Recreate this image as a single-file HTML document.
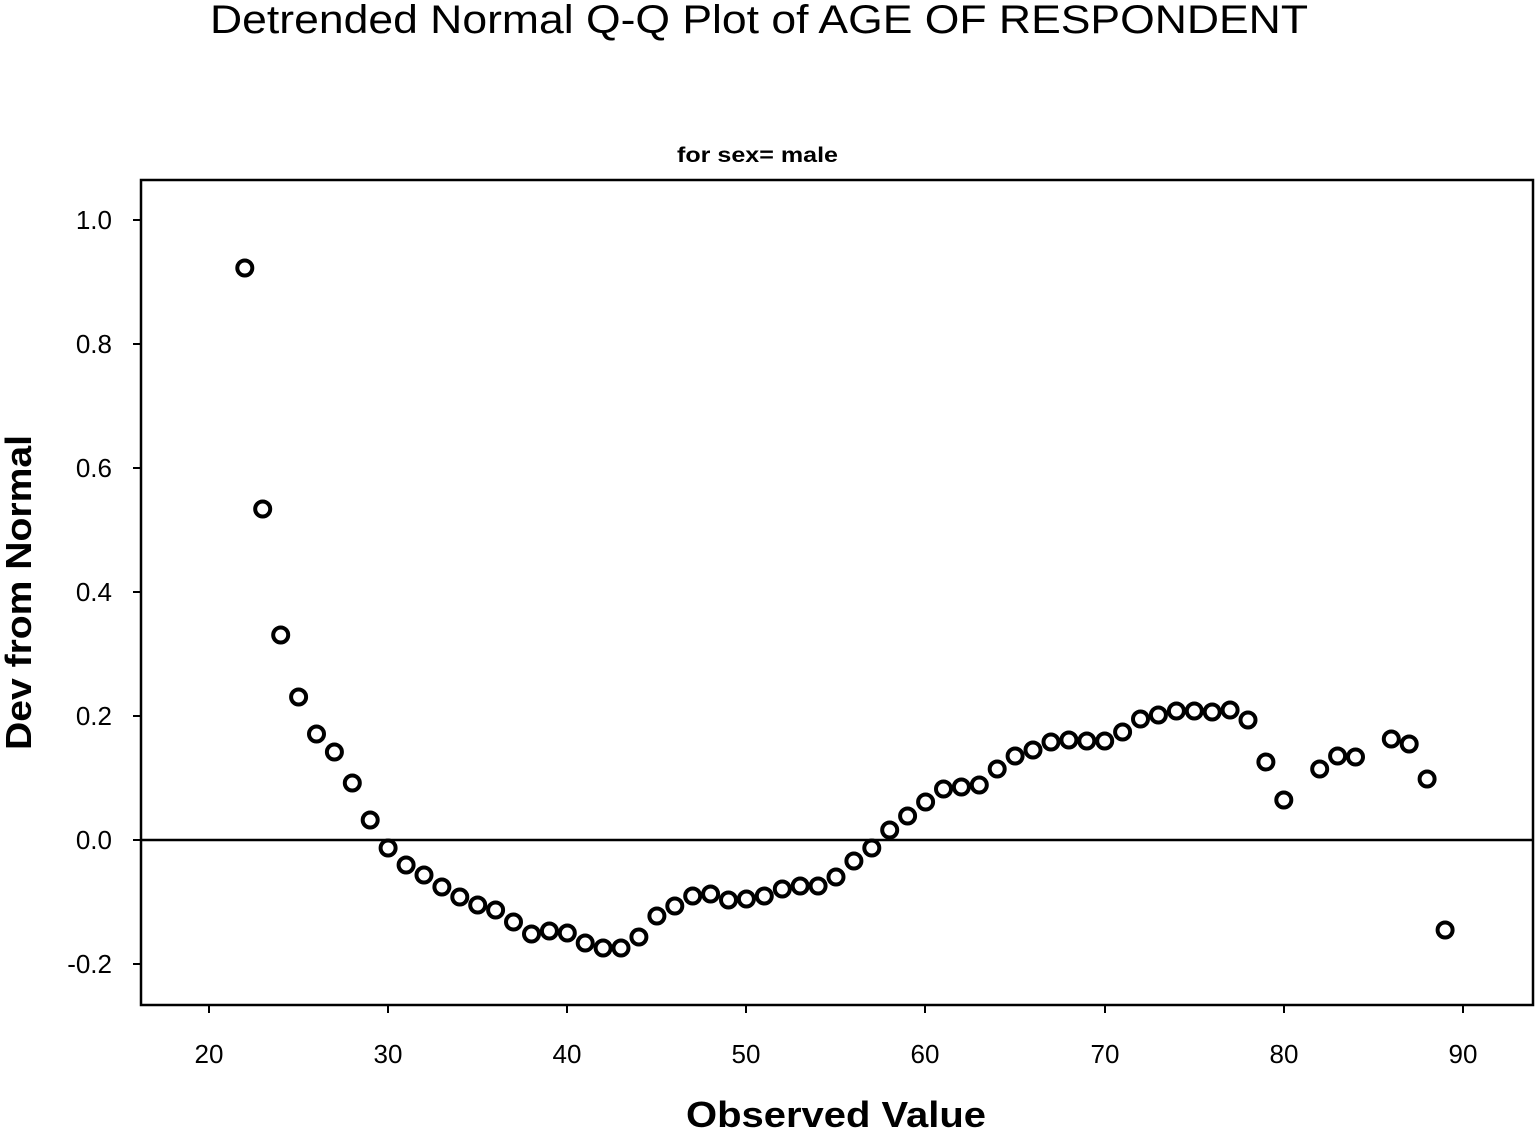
<!DOCTYPE html>
<html><head><style>html,body{margin:0;padding:0;background:#fff}</style></head><body>
<svg width="1536" height="1130" xmlns="http://www.w3.org/2000/svg" font-family="Liberation Sans, sans-serif">
<rect width="1536" height="1130" fill="#fff"/>
<text x="210" y="33" font-size="40" textLength="1098" lengthAdjust="spacingAndGlyphs" fill="#000">Detrended Normal Q-Q Plot of AGE OF RESPONDENT</text>
<text x="677" y="162" font-size="21" font-weight="bold" textLength="161" lengthAdjust="spacingAndGlyphs" fill="#000">for sex= male</text>
<rect x="141" y="180" width="1392" height="825" fill="none" stroke="#000" stroke-width="2.5"/>
<line x1="141" y1="840" x2="1533" y2="840" stroke="#000" stroke-width="2.5"/>
<g stroke="#000" stroke-width="2">
<line x1="133" y1="220" x2="141" y2="220"/><line x1="133" y1="344" x2="141" y2="344"/><line x1="133" y1="468" x2="141" y2="468"/><line x1="133" y1="592" x2="141" y2="592"/><line x1="133" y1="716" x2="141" y2="716"/><line x1="133" y1="840" x2="141" y2="840"/><line x1="133" y1="964" x2="141" y2="964"/>
<line x1="209" y1="1005" x2="209" y2="1013"/><line x1="388" y1="1005" x2="388" y2="1013"/><line x1="567" y1="1005" x2="567" y2="1013"/><line x1="746" y1="1005" x2="746" y2="1013"/><line x1="925" y1="1005" x2="925" y2="1013"/><line x1="1105" y1="1005" x2="1105" y2="1013"/><line x1="1284" y1="1005" x2="1284" y2="1013"/><line x1="1463" y1="1005" x2="1463" y2="1013"/>
</g>
<g font-size="26" text-anchor="end" fill="#000">
<text x="112" y="229">1.0</text><text x="112" y="353">0.8</text><text x="112" y="477">0.6</text><text x="112" y="601">0.4</text><text x="112" y="725">0.2</text><text x="112" y="849">0.0</text><text x="112" y="973">-0.2</text>
</g>
<g font-size="26" text-anchor="middle" fill="#000">
<text x="209" y="1063">20</text><text x="388" y="1063">30</text><text x="567" y="1063">40</text><text x="746" y="1063">50</text><text x="925" y="1063">60</text><text x="1105" y="1063">70</text><text x="1284" y="1063">80</text><text x="1463" y="1063">90</text>
</g>
<text x="686" y="1127" font-size="36" font-weight="bold" textLength="300" lengthAdjust="spacingAndGlyphs" fill="#000">Observed Value</text>
<text transform="translate(31,750) rotate(-90)" font-size="36" font-weight="bold" textLength="315" lengthAdjust="spacingAndGlyphs" fill="#000">Dev from Normal</text>
<g fill="none" stroke="#000" stroke-width="4">
<circle cx="244.8" cy="268" r="7.5"/><circle cx="262.7" cy="509" r="7.5"/><circle cx="280.7" cy="635" r="7.5"/><circle cx="298.6" cy="697" r="7.5"/><circle cx="316.5" cy="734" r="7.5"/><circle cx="334.4" cy="752" r="7.5"/><circle cx="352.3" cy="783" r="7.5"/><circle cx="370.2" cy="820" r="7.5"/><circle cx="388.1" cy="848" r="7.5"/><circle cx="406.1" cy="865" r="7.5"/><circle cx="424.0" cy="875" r="7.5"/><circle cx="441.9" cy="887" r="7.5"/><circle cx="459.8" cy="897" r="7.5"/><circle cx="477.7" cy="905" r="7.5"/><circle cx="495.6" cy="910" r="7.5"/><circle cx="513.5" cy="922" r="7.5"/><circle cx="531.5" cy="934" r="7.5"/><circle cx="549.4" cy="931" r="7.5"/><circle cx="567.3" cy="933" r="7.5"/><circle cx="585.2" cy="943" r="7.5"/><circle cx="603.1" cy="948" r="7.5"/><circle cx="621.0" cy="948" r="7.5"/><circle cx="638.9" cy="937" r="7.5"/><circle cx="656.9" cy="916" r="7.5"/><circle cx="674.8" cy="906" r="7.5"/><circle cx="692.7" cy="896" r="7.5"/><circle cx="710.6" cy="894" r="7.5"/><circle cx="728.5" cy="900" r="7.5"/><circle cx="746.4" cy="899" r="7.5"/><circle cx="764.3" cy="896" r="7.5"/><circle cx="782.3" cy="889" r="7.5"/><circle cx="800.2" cy="886" r="7.5"/><circle cx="818.1" cy="886" r="7.5"/><circle cx="836.0" cy="877" r="7.5"/><circle cx="853.9" cy="861" r="7.5"/><circle cx="871.8" cy="848" r="7.5"/><circle cx="889.7" cy="830" r="7.5"/><circle cx="907.6" cy="816" r="7.5"/><circle cx="925.6" cy="802" r="7.5"/><circle cx="943.5" cy="789" r="7.5"/><circle cx="961.4" cy="787" r="7.5"/><circle cx="979.3" cy="785" r="7.5"/><circle cx="997.2" cy="769" r="7.5"/><circle cx="1015.1" cy="756" r="7.5"/><circle cx="1033.0" cy="750" r="7.5"/><circle cx="1051.0" cy="742" r="7.5"/><circle cx="1068.9" cy="740" r="7.5"/><circle cx="1086.8" cy="741" r="7.5"/><circle cx="1104.7" cy="741" r="7.5"/><circle cx="1122.6" cy="732" r="7.5"/><circle cx="1140.5" cy="719" r="7.5"/><circle cx="1158.4" cy="715" r="7.5"/><circle cx="1176.4" cy="711" r="7.5"/><circle cx="1194.3" cy="711" r="7.5"/><circle cx="1212.2" cy="712" r="7.5"/><circle cx="1230.1" cy="710" r="7.5"/><circle cx="1248.0" cy="720" r="7.5"/><circle cx="1265.9" cy="762" r="7.5"/><circle cx="1283.8" cy="800" r="7.5"/><circle cx="1319.7" cy="769" r="7.5"/><circle cx="1337.6" cy="756" r="7.5"/><circle cx="1355.5" cy="757" r="7.5"/><circle cx="1391.3" cy="739" r="7.5"/><circle cx="1409.2" cy="744" r="7.5"/><circle cx="1427.1" cy="779" r="7.5"/><circle cx="1445.1" cy="930" r="7.5"/>
</g>
</svg>
</body></html>
